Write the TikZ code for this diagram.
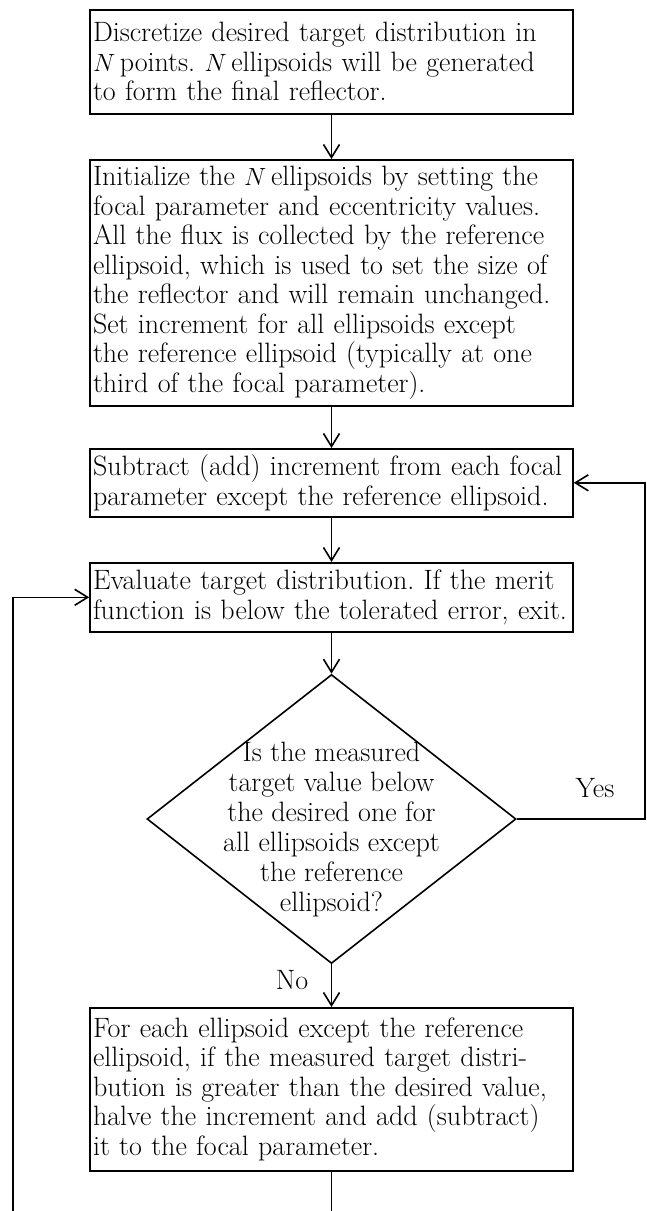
\documentclass[tikz,border=0pt]{standalone}
\usepackage{fontspec}
\usetikzlibrary{arrows.meta,shapes.geometric}
\frenchspacing
\newcommand\boxfont{\fontsize{28}{29.5}\selectfont\addfontfeatures{FakeStretch=1.2}}
\begin{document}
\begin{tikzpicture}[x=1pt,y=-1pt,
  box/.style={draw, line width=1.6pt, text width=477pt, inner xsep=3pt, inner ysep=0pt, align=left, anchor=north, font=\boxfont},
  flow/.style={line width=1.6pt, -{Straight Barb[length=13pt,width=16pt,line width=1.6pt]}},
  lbl/.style={font=\boxfont, inner sep=0pt}]
\useasboundingbox (0,0) rectangle (647,1211);
\clip (0,0) rectangle (647,1211);
\node[box, minimum height=104pt] (b1) at (331.5,9) {Discretize desired target distribution in\\ $N$\,points. $N$\,ellipsoids will be generated\\ to form the final reflector.};
\node[box, minimum height=246pt] (b2) at (331.5,159) {Initialize the $N$\,ellipsoids by setting the\\ focal parameter and eccentricity values.\\ All the flux is collected by the reference\\ ellipsoid, which is used to set the size of\\ the reflector and will remain unchanged.\\ Set increment for all ellipsoids except\\ the reference ellipsoid (typically at one\\ third of the focal parameter).};
\node[box, minimum height=68pt] (b3) at (331.5,448) {Subtract (add) increment from each focal\\ parameter except the reference ellipsoid.};
\node[box, minimum height=69pt] (b4) at (331.5,562) {Evaluate target distribution. If the merit\\ function is below the tolerated error, exit.};
\node[diamond, draw, line width=1.6pt, minimum width=369pt, minimum height=289pt, inner sep=0pt] (d) at (331.5,819) {};
\node[lbl, align=center, font={\fontsize{28}{30}\selectfont\addfontfeatures{FakeStretch=1.22}}] (dt) at (331.5,830) {Is the measured\\ target value below\\ the desired one for\\ all ellipsoids except\\ the reference\\ ellipsoid?};
\node[box, minimum height=163pt] (b5) at (331.5,1007) {For each ellipsoid except the reference\\ ellipsoid, if the measured target distri-\\ bution is greater than the desired value,\\ halve the increment and add (subtract)\\ it to the focal parameter.};
\node[lbl] (yes) at (595,788) {Yes};
\node[lbl] (no) at (292,980) {No};
\coordinate (r) at (645,0);
\coordinate (bl) at (13,1230);
\draw[flow] (b1.south) -- (b2.north);
\draw[flow] (b2.south) -- (b3.north);
\draw[flow] (b3.south) -- (b4.north);
\draw[flow] (b4.south) -- (d.north);
\draw[flow] (d.south) -- (b5.north);
\draw[flow] (d.east) -- (d.east -| r) |- (b3.east);
\draw[flow] (b5.south) -- (b5.south |- bl) -- (bl) |- (b4.west);
\end{tikzpicture}
\end{document}
